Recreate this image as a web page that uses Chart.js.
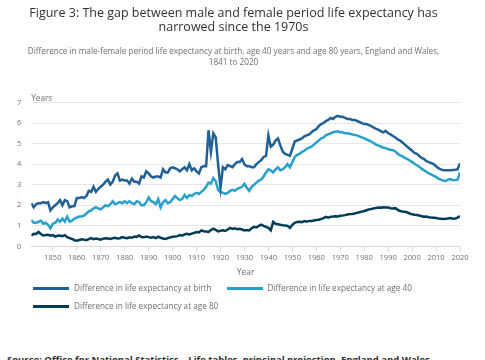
<!DOCTYPE html>
<html lang="en">
<head>
<meta charset="UTF-8">
<title>Figure 3: male-female life expectancy gap</title>
<script src="https://cdn.jsdelivr.net/npm/chart.js"></script>
<style>
  body { margin: 0; background: #fff; font-family: "Open Sans", sans-serif; }
  #wrap { position: relative; width: 485px; height: 360px; overflow: hidden; }
  #gapChart { position: absolute; left: 0; top: 0; }
  #legend { position: absolute; left: 33px; top: 279px; width: 420px; font-size: 8.2px; color: #707071; line-height: 17.7px; }
  .item { display: inline-block; margin-right: 15px; white-space: nowrap; }
  .swatch { display: inline-block; width: 36px; height: 3px; vertical-align: middle; margin-right: 5px; }
  #source { position: absolute; left: 7px; top: 355px; font-size: 9.5px; font-weight: 700; color: #323132; white-space: nowrap; line-height: 1; }
</style>
</head>
<body>
<div id="wrap">
  <canvas id="gapChart" width="485" height="282"></canvas>
  <div id="legend"></div>
  <div id="source">Source: Office for National Statistics – Life tables, principal projection, England and Wales</div>
</div>
<script>
// years 1841..2020
var years = [];
for (var y = 1841; y <= 2020; y++) years.push(y);

var xTicks = [1850, 1860, 1870, 1880, 1890, 1900, 1910, 1920, 1930, 1940, 1950, 1960, 1970, 1980, 1990, 2000, 2010, 2020];
var yTicks = [0, 1, 2, 3, 4, 5, 6, 7];
var yAxisLabel = 'Years';
var xAxisLabel = 'Year';

var birthLabel = 'Difference in life expectancy at birth';
var age40Label = 'Difference in life expectancy at age 40';
var age80Label = 'Difference in life expectancy at age 80';

var birth = [
  2.1, 1.9, 2.05, 2.1, 2.1, 2.15, 2.1, 2.15, 1.75, 1.9,
  2.0, 2.1, 2.25, 2.0, 2.25, 2.2, 1.9, 1.95, 1.95, 2.35,
  2.35, 2.4, 2.35, 2.45, 2.7, 2.65, 2.9, 2.65, 2.8, 2.9,
  3.0, 3.15, 3.25, 3.0, 3.15, 3.45, 3.55, 3.2, 3.25, 3.2,
  3.2, 3.05, 3.3, 3.15, 3.15, 3.05, 3.4, 3.35, 3.65, 3.55,
  3.4, 3.35, 3.4, 3.4, 3.35, 3.75, 3.6, 3.6, 3.8, 3.85,
  3.8, 3.75, 3.65, 3.75, 3.85, 3.7, 4.0, 3.7, 3.8, 3.65,
  3.55, 3.85, 3.9, 3.9, 5.65, 4.6, 5.5, 5.3, 4.0, 2.85,
  3.85, 3.75, 3.95, 3.9, 3.85, 4.0, 4.1, 4.1, 4.25, 4.0,
  3.9, 3.9, 3.85, 3.85, 4.0, 4.1, 4.2, 4.35, 4.4, 5.4,
  4.85, 4.95, 5.15, 5.25, 4.9, 4.6, 4.5, 4.45, 4.4, 4.75,
  5.1, 5.15, 5.2, 5.25, 5.35, 5.4, 5.45, 5.55, 5.65, 5.7,
  5.85, 5.95, 6.0, 6.1, 6.15, 6.25, 6.2, 6.3, 6.35, 6.3,
  6.3, 6.25, 6.2, 6.2, 6.15, 6.15, 6.1, 6.05, 6.0, 5.95,
  5.95, 5.9, 5.85, 5.78, 5.72, 5.67, 5.6, 5.55, 5.62, 5.5,
  5.45, 5.37, 5.3, 5.2, 5.15, 5.05, 4.95, 4.85, 4.75, 4.65,
  4.55, 4.5, 4.4, 4.3, 4.25, 4.15, 4.1, 4.05, 4.0, 3.9,
  3.8, 3.75, 3.7, 3.7, 3.7, 3.7, 3.72, 3.73, 3.75, 4.05
];

var age40 = [
  1.28, 1.15, 1.15, 1.2, 1.25, 1.1, 1.15, 1.05, 0.88, 1.1,
  1.15, 1.3, 1.2, 1.35, 1.2, 1.45, 1.2, 1.25, 1.35, 1.4,
  1.45, 1.45, 1.5, 1.6, 1.7, 1.75, 1.85, 1.9, 1.85, 1.8,
  1.9, 2.0, 1.95, 2.05, 2.2, 2.05, 2.1, 2.15, 2.1, 2.2,
  2.1, 2.2, 2.1, 2.05, 2.2, 2.15, 2.0, 2.0, 2.15, 2.38,
  2.2, 2.15, 2.05, 2.3, 1.9, 2.15, 2.25, 2.1, 2.15, 2.3,
  2.45, 2.35, 2.25, 2.3, 2.5, 2.35, 2.5, 2.45, 2.55, 2.6,
  2.55, 2.65, 2.75, 2.9, 3.1, 3.05, 3.32, 3.18, 2.75, 2.65,
  2.6, 2.55, 2.6, 2.7, 2.75, 2.7, 2.8, 2.85, 2.9, 3.05,
  2.85, 2.7, 2.9, 3.0, 3.1, 3.2, 3.25, 3.4, 3.6, 3.75,
  3.7, 3.6, 3.75, 3.85, 3.7, 3.75, 3.85, 4.0, 3.85, 4.1,
  4.35, 4.45, 4.5, 4.6, 4.65, 4.75, 4.8, 4.85, 4.95, 5.05,
  5.15, 5.25, 5.3, 5.4, 5.45, 5.5, 5.55, 5.58, 5.6, 5.55,
  5.55, 5.5, 5.5, 5.48, 5.45, 5.42, 5.4, 5.35, 5.3, 5.25,
  5.2, 5.15, 5.1, 5.02, 4.95, 4.9, 4.85, 4.8, 4.78, 4.72,
  4.7, 4.68, 4.62, 4.5, 4.43, 4.38, 4.31, 4.25, 4.18, 4.1,
  4.02, 3.95, 3.87, 3.78, 3.7, 3.63, 3.55, 3.5, 3.43, 3.38,
  3.3, 3.25, 3.2, 3.18, 3.25, 3.27, 3.22, 3.23, 3.25, 3.6
];

var age80 = [
  0.53, 0.61, 0.6, 0.7, 0.6, 0.53, 0.55, 0.57, 0.52, 0.55,
  0.48, 0.52, 0.53, 0.5, 0.55, 0.45, 0.4, 0.36, 0.3, 0.28,
  0.31, 0.35, 0.33, 0.3, 0.35, 0.4, 0.35, 0.38, 0.36, 0.33,
  0.38, 0.4, 0.38, 0.36, 0.4, 0.42, 0.38, 0.4, 0.45, 0.42,
  0.4, 0.44, 0.42, 0.48, 0.46, 0.53, 0.45, 0.44, 0.48, 0.45,
  0.42, 0.45, 0.4, 0.47, 0.42, 0.38, 0.36, 0.4, 0.44, 0.47,
  0.48, 0.5, 0.55, 0.52, 0.58, 0.61, 0.58, 0.62, 0.66, 0.7,
  0.68, 0.78, 0.74, 0.72, 0.7, 0.8, 0.86, 0.8, 0.73, 0.76,
  0.78, 0.75, 0.82, 0.9, 0.85, 0.88, 0.84, 0.86, 0.82, 0.78,
  0.8, 0.78, 0.88, 0.95, 0.92, 1.0, 1.06, 1.0, 0.95, 0.9,
  0.78, 1.19, 1.1, 1.08, 1.05, 1.03, 1.02, 1.0, 0.9, 1.05,
  1.15, 1.19, 1.2, 1.18, 1.23, 1.2, 1.24, 1.23, 1.26, 1.28,
  1.3, 1.33, 1.38, 1.44, 1.4, 1.44, 1.45, 1.47, 1.46, 1.49,
  1.5, 1.52, 1.55, 1.57, 1.58, 1.6, 1.63, 1.66, 1.69, 1.72,
  1.76, 1.8, 1.82, 1.85, 1.87, 1.89, 1.88, 1.9, 1.89, 1.89,
  1.86, 1.84, 1.86, 1.78, 1.72, 1.7, 1.69, 1.65, 1.6, 1.56,
  1.54, 1.53, 1.5, 1.47, 1.44, 1.45, 1.42, 1.4, 1.39, 1.38,
  1.36, 1.35, 1.33, 1.34, 1.36, 1.38, 1.35, 1.36, 1.4, 1.48
];

var grey = '#707071';
var font = 'Open Sans';

// "Years" above the y axis
var yLabelPlugin = {
  id: 'yLabel',
  afterDraw: function (chart) {
    var c = chart.ctx, a = chart.chartArea;
    c.save();
    c.font = '8.2px "Open Sans"';
    c.fillStyle = grey;
    c.textBaseline = 'middle';
    c.fillText(yAxisLabel, a.left, a.top - 4);
    c.restore();
  }
};

function line(label, data, color) {
  return { label: label, data: data, borderColor: color, backgroundColor: color,
           borderWidth: 2.5, pointRadius: 0, tension: 0, fill: false };
}

var chart = new Chart(document.getElementById('gapChart'), {
  type: 'line',
  data: {
    labels: years,
    datasets: [
      line(birthLabel, birth, '#206095'),
      line(age40Label, age40, '#27a0cc'),
      line(age80Label, age80, '#003c57')
    ]
  },
  plugins: [yLabelPlugin],
  options: {
    responsive: false,
    animation: false,
    devicePixelRatio: 1,
    layout: { padding: { left: 7, right: 25, bottom: 4, top: 0 } },
    plugins: {
      legend: { display: false },
      tooltip: { enabled: false },
      title: {
        display: true,
        text: ['Figure 3: The gap between male and female period life expectancy has', 'narrowed since the 1970s'],
        color: '#323132',
        font: { family: font, size: 12.5, weight: 'normal', lineHeight: 1.08 },
        padding: { top: 7, bottom: 12.5 }
      },
      subtitle: {
        display: true,
        text: ['Difference in male-female period life expectancy at birth, age 40 years and age 80 years, England and Wales,', '1841 to 2020'],
        color: grey,
        font: { family: font, size: 8.2, lineHeight: 1.34 },
        padding: { top: 0, bottom: 34 }
      }
    },
    scales: {
      x: {
        type: 'linear',
        min: 1841,
        max: 2020,
        afterBuildTicks: function (s) { s.ticks = xTicks.map(function (v) { return { value: v }; }); },
        ticks: { color: grey, font: { family: font, size: 7.5 }, padding: 1.5, maxRotation: 0, autoSkip: false,
                 callback: function (v) { return String(v); } },
        grid: { drawOnChartArea: false, drawTicks: true, tickLength: 5, color: '#d3d9e6' },
        border: { display: true, color: '#d3d9e6', width: 1 },
        title: { display: true, text: xAxisLabel, color: grey, font: { family: font, size: 8.5 }, padding: { top: 4.4, bottom: 0 } }
      },
      y: {
        min: 0,
        max: 7,
        afterBuildTicks: function (s) { s.ticks = yTicks.map(function (v) { return { value: v }; }); },
        ticks: { color: grey, font: { family: font, size: 7.5 }, padding: 10 },
        grid: { drawTicks: false, color: '#e6e6e6' },
        border: { display: false }
      }
    }
  }
});

// legend as html under the chart
var legendBox = document.getElementById('legend');
chart.data.datasets.forEach(function (ds) {
  var item = document.createElement('span');
  item.className = 'item';
  var sw = document.createElement('span');
  sw.className = 'swatch';
  sw.style.background = ds.borderColor;
  item.appendChild(sw);
  item.appendChild(document.createTextNode(ds.label));
  legendBox.appendChild(item);
});
</script>
</body>
</html>
